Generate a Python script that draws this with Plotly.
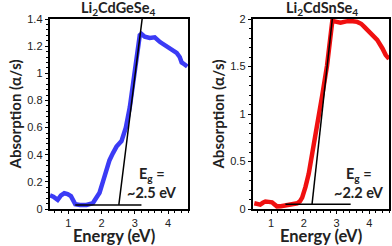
import plotly.graph_objects as go

# Li2CdGeSe4 (left)
ge_x = [0.45, 0.55, 0.68, 0.78, 0.88, 0.98, 1.08, 1.15, 1.21, 1.35, 1.55, 1.74, 1.85, 1.94, 2.04, 2.14, 2.24, 2.34, 2.45, 2.6, 2.73, 2.85, 2.95, 3.05, 3.15, 3.2, 3.3, 3.45, 3.6, 3.76, 3.9, 4.06, 4.18, 4.26, 4.35, 4.41, 4.5, 4.58]
ge_y = [0.10, 0.09, 0.067, 0.10, 0.116, 0.11, 0.095, 0.07, 0.035, 0.03, 0.03, 0.044, 0.08, 0.12, 0.2, 0.28, 0.36, 0.41, 0.46, 0.5, 0.6, 0.75, 0.92, 1.12, 1.28, 1.29, 1.27, 1.26, 1.265, 1.23, 1.21, 1.18, 1.165, 1.15, 1.12, 1.08, 1.065, 1.05]
ge_tan_x = [2.52, 3.22]
ge_tan_y = [0.03, 1.4]
ge_base_x = [1.21, 3.2]
ge_base_y = [0.03, 0.03]

# Li2CdSnSe4 (right)
sn_x = [0.49, 0.58, 0.67, 0.75, 0.83, 0.93, 1.03, 1.1, 1.18, 1.3, 1.49, 1.65, 1.8, 1.88, 1.95, 2.05, 2.15, 2.26, 2.41, 2.56, 2.71, 2.82, 2.87, 3.0, 3.12, 3.3, 3.43, 3.63, 3.75, 3.84, 4.04, 4.24, 4.4, 4.5, 4.6]
sn_y = [0.06, 0.055, 0.046, 0.065, 0.078, 0.075, 0.07, 0.05, 0.028, 0.03, 0.046, 0.05, 0.06, 0.08, 0.12, 0.23, 0.37, 0.59, 0.87, 1.19, 1.51, 1.79, 1.98, 1.97, 1.96, 1.975, 1.98, 1.97, 1.95, 1.92, 1.85, 1.78, 1.69, 1.62, 1.58]
sn_tan_x = [2.25, 2.87]
sn_tan_y = [0.046, 2.0]
sn_base_x = [1.44, 3.43]
sn_base_y = [0.05, 0.05]

titles = ["Li<sub>2</sub>CdGeSe<sub>4</sub>", "Li<sub>2</sub>CdSnSe<sub>4</sub>"]
eg_labels = [["E<sub>g</sub> =", "~2.5 eV"], ["E<sub>g</sub> =", "~2.2 eV"]]
x_title = "Energy (eV)"
y_title = "Absorption (α/s)"

fig = go.Figure()
fig.add_trace(go.Scatter(x=ge_x, y=ge_y, mode="lines", line=dict(color="#3b3bf5", width=4.5), xaxis="x", yaxis="y"))
fig.add_trace(go.Scatter(x=ge_tan_x, y=ge_tan_y, mode="lines", line=dict(color="black", width=1.5), xaxis="x", yaxis="y"))
fig.add_trace(go.Scatter(x=ge_base_x, y=ge_base_y, mode="lines", line=dict(color="black", width=1.5), xaxis="x", yaxis="y"))
fig.add_trace(go.Scatter(x=sn_x, y=sn_y, mode="lines", line=dict(color="#f01010", width=4.5), xaxis="x2", yaxis="y2"))
fig.add_trace(go.Scatter(x=sn_tan_x, y=sn_tan_y, mode="lines", line=dict(color="black", width=1.5), xaxis="x2", yaxis="y2"))
fig.add_trace(go.Scatter(x=sn_base_x, y=sn_base_y, mode="lines", line=dict(color="black", width=1.5), xaxis="x2", yaxis="y2"))

tickfont = dict(family="Liberation Sans, Arial", size=11, color="#222")

def xax(domain, anchor):
    return dict(domain=domain, anchor=anchor, range=[0.45, 4.6], tickvals=[1, 2, 3, 4],
                ticks="outside", ticklen=3, tickwidth=1.2, tickcolor="black",
                minor=dict(dtick=0.2, tick0=0, ticks="outside", ticklen=2.5, tickcolor="black"),
                showline=True, linecolor="black", linewidth=1.5, mirror=True, automargin=False,
                showgrid=False, zeroline=False, tickfont=tickfont)

def yax(domain, anchor, rng, dtick, minor, ticktext):
    vals = [round(i * dtick, 3) for i in range(len(ticktext))]
    return dict(domain=domain, anchor=anchor, range=rng, tickvals=vals, ticktext=ticktext,
                ticks="outside", ticklen=3.5, tickwidth=1.2, tickcolor="black",
                minor=dict(dtick=minor, tick0=0, ticks="outside", ticklen=2.5, tickcolor="black"),
                showline=True, linecolor="black", linewidth=1.5, mirror=True, automargin=False,
                showgrid=False, zeroline=False, tickfont=tickfont,
                title=dict(text="<b>" + y_title + "</b>", font=dict(family="Lato", size=15, color="#222"), standoff=2))

ydom = [1 - 209 / 246, 1 - 19 / 246]
fig.update_layout(
    width=392, height=246, margin=dict(l=0, r=0, t=0, b=0, autoexpand=False),
    paper_bgcolor="white", plot_bgcolor="white", showlegend=False,
    xaxis=xax([50 / 392, 188 / 392], "y"),
    yaxis=yax(ydom, "x", [0, 1.4], 0.2, 0.04, ["0", "0.2", "0.4", "0.6", "0.8", "1", "1.2", "1.4"]),
    xaxis2=xax([253 / 392, 389 / 392], "y2"),
    yaxis2=yax(ydom, "x2", [0, 2.0], 0.5, 0.1, ["0", "0.5", "1", "1.5", "2"]),
)

ann = []
for cx, t in zip([118, 322], titles):
    ann.append(dict(x=cx / 392, y=1 - 19.5 / 246, xref="paper", yref="paper", text="<b>" + t + "</b>",
                    showarrow=False, font=dict(family="Lato", size=14.5, color="#222"), xanchor="center", yanchor="bottom",
                    borderpad=0))
for cx in [114, 321]:
    ann.append(dict(x=cx / 392, y=1 - 236 / 246, xref="paper", yref="paper", text="<b>" + x_title + "</b>",
                    showarrow=False, font=dict(family="Lato", size=16.5, color="#222"), xanchor="center", yanchor="middle"))
for cx, lbl in zip([152, 359], eg_labels):
    ann.append(dict(x=cx / 392, y=1 - 174 / 246, xref="paper", yref="paper", text="<b>" + lbl[0] + "</b>",
                    showarrow=False, font=dict(family="Lato", size=14.5, color="#222"), xanchor="center", yanchor="middle"))
    ann.append(dict(x=cx / 392, y=1 - 192 / 246, xref="paper", yref="paper", text="<b>" + lbl[1] + "</b>",
                    showarrow=False, font=dict(family="Lato", size=14.5, color="#222"), xanchor="center", yanchor="middle"))
fig.update_layout(annotations=ann)

fig.write_html("out.html", config={"displayModeBar": False},
               post_script="document.body.style.margin='0';document.body.style.overflow='hidden';")
